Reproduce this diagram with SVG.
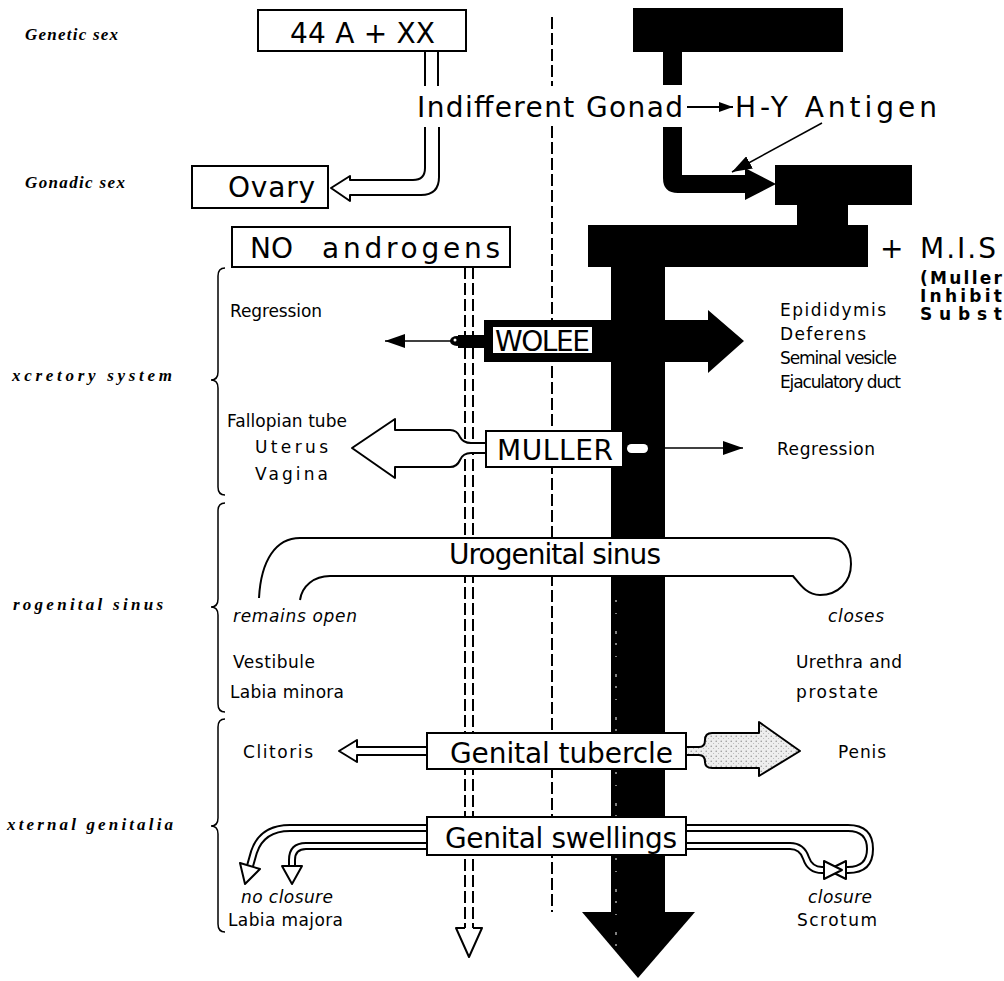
<svg xmlns="http://www.w3.org/2000/svg" width="1004" height="981" viewBox="0 0 1004 981">
<defs>
<style>
.lbl{font-family:"Liberation Serif","DejaVu Serif",serif;font-weight:bold;font-style:italic;font-size:17px}
.big{font-family:"DejaVu Sans",sans-serif;font-size:28px}
.sm{font-family:"DejaVu Sans",sans-serif;font-size:17px}
.bd{font-weight:bold}
.it{font-style:italic}
.box{fill:#fff;stroke:#000;stroke-width:2}
.blk{fill:#000}
.ln{fill:none;stroke:#000;stroke-width:2}
.thin{fill:none;stroke:#000;stroke-width:1.5}
.open{fill:#fff;stroke:#000;stroke-width:2;stroke-linejoin:round}
.dash{fill:none;stroke:#000;stroke-width:2;stroke-dasharray:12 4}
.tubeo{fill:none;stroke:#000;stroke-width:8}
.tubei{fill:none;stroke:#fff;stroke-width:4}
</style>
<pattern id="stip" width="5" height="5" patternUnits="userSpaceOnUse">
<rect width="5" height="5" fill="#eeeeee"/>
<circle cx="1.2" cy="1.2" r="0.7" fill="#888"/>
<circle cx="3.6" cy="3.4" r="0.5" fill="#aaa"/>
</pattern>
<marker id="tri" viewBox="0 0 20 14" refX="20" refY="7" markerWidth="20" markerHeight="14" markerUnits="userSpaceOnUse" orient="auto">
<path d="M0,0 L20,7 L0,14 Z" fill="#000"/>
</marker>
<marker id="tris" viewBox="0 0 14 10" refX="14" refY="5" markerWidth="14" markerHeight="10" markerUnits="userSpaceOnUse" orient="auto">
<path d="M0,0 L14,5 L0,10 Z" fill="#000"/>
</marker>
</defs>
<rect width="1004" height="981" fill="#fff"/>

<g id="connectors">
<!-- central dashed divider -->
<line class="dash" x1="552" y1="17" x2="552" y2="86"/>
<line class="dash" x1="552" y1="126" x2="552" y2="912"/>
<!-- 44A+XX to Indifferent Gonad -->
<line class="ln" x1="425" y1="51" x2="425" y2="86"/>
<line class="ln" x1="438" y1="51" x2="438" y2="86"/>
<!-- Gonad to Ovary -->
<path class="open" d="M425,127 V168 Q425,180 413,180 H350 V176 L331,188 L350,201 V195 H421 Q439,195 439,177 V127"/>
<!-- NO androgens dashed double line -->
<line class="dash" x1="465" y1="267" x2="465" y2="928"/>
<line class="dash" x1="473" y1="267" x2="473" y2="928"/>
<path class="open" d="M465,928 H456 L469,957 L482,928 H473"/>
<!-- male chain -->
<rect class="blk" x="663" y="52" width="19" height="33"/>
<path class="blk" d="M663,127 V178 Q663,193 678,193 H745 V200 L776,184 L745,168 V175 H682 V127 Z"/>
<line class="thin" x1="822" y1="123" x2="732" y2="172" marker-end="url(#tri)"/>
<line class="ln" x1="687" y1="107" x2="733" y2="107" marker-end="url(#tris)"/>
<rect class="blk" x="797" y="204" width="51" height="22"/>
<rect class="blk" x="611" y="266" width="54" height="647"/>
<polygon class="blk" points="582,912 695,912 638,978"/>
<line x1="616" y1="600" x2="616" y2="960" stroke="#fff" stroke-width="1" stroke-dasharray="2 11 1 17 3 9"/>
<!-- Wolff connectors -->
<line class="thin" x1="455" y1="341" x2="385" y2="341" marker-end="url(#tri)"/>
<rect class="blk" x="458" y="335" width="28" height="13"/>
<ellipse class="blk" cx="457" cy="341" rx="7" ry="5"/>
<circle cx="455" cy="340" r="1.5" fill="#fff"/>
<!-- Muller connectors -->
<path class="open" d="M486,443 H471 Q463,443 460,437 Q457,430 450,430 H395 V419 L352,448 L395,478 V467 H450 Q457,467 460,460 Q463,453 471,453 H486"/>
<rect x="627" y="444" width="21" height="9" rx="4.5" fill="#fff"/>
<line class="thin" x1="665" y1="448" x2="743" y2="448" marker-end="url(#tri)"/>
<!-- Genital tubercle arrows -->
<path class="open" d="M427,747 H357 V740 L339,751 L357,762 V755 H427"/>
<path d="M686,747 H699 Q705,747 705,740 Q705,733 712,733 H759 V722 L800,751 L759,776 V768 H712 Q705,768 705,762 Q705,755 699,755 H686" fill="url(#stip)" stroke="#000" stroke-width="2" stroke-linejoin="round"/>
<!-- Genital swellings tubes -->
<path class="tubeo" d="M430,828 H290 Q262,828 254,852 L250,866"/>
<path class="tubei" d="M430,828 H290 Q262,828 254,852 L250,866"/>
<polygon class="open" points="240,863 260,869 245,884"/>
<path class="tubeo" d="M430,846 H306 Q292,846 292,860 V866"/>
<path class="tubei" d="M430,846 H306 Q292,846 292,860 V866"/>
<polygon class="open" points="282,866 302,866 292,884"/>
<path class="tubeo" d="M683,828 H848 Q870,828 870,849 Q870,870 848,870 H846"/>
<path class="tubei" d="M683,828 H848 Q870,828 870,849 Q870,870 848,870 H846"/>
<path class="tubeo" d="M683,846 H790 Q802,846 806,858 Q810,870 822,870 H824"/>
<path class="tubei" d="M683,846 H790 Q802,846 806,858 Q810,870 822,870 H824"/>
<polygon class="open" points="846,861 846,879 828,870"/>
<polygon class="open" points="824,861 824,879 842,870"/>
</g>

<g id="side-labels">
<text class="lbl" x="25" y="40" textLength="93" lengthAdjust="spacing">Genetic sex</text>
<text class="lbl" x="25" y="188" textLength="100" lengthAdjust="spacing">Gonadic sex</text>
<text class="lbl" x="12" y="381" textLength="160" lengthAdjust="spacing">xcretory system</text>
<text class="lbl" x="13" y="610" textLength="150" lengthAdjust="spacing">rogenital sinus</text>
<text class="lbl" x="7" y="830" textLength="166" lengthAdjust="spacing">xternal genitalia</text>
<path class="thin" d="M225,268 Q218,268 218,276 V372 Q218,380 211,380 Q218,380 218,388 V487 Q218,495 225,495"/>
<path class="thin" d="M225,503 Q218,503 218,511 V599 Q218,607 211,607 Q218,607 218,615 V704 Q218,712 225,712"/>
<path class="thin" d="M225,719 Q218,719 218,727 V818 Q218,826 211,826 Q218,826 218,834 V924 Q218,932 225,932"/>
</g>

<g id="node-genotype">
<rect class="box" x="258" y="10" width="208" height="41"/>
<text class="big" x="290" y="43" font-size="30" textLength="145" lengthAdjust="spacing">44 A + XX</text>
</g>

<g id="node-male-genotype">
<rect class="blk" x="633" y="8" width="210" height="44"/>
</g>

<g id="node-indifferent-gonad">
<text class="big" x="417" y="117" font-size="30" textLength="266" lengthAdjust="spacing">Indifferent Gonad</text>
</g>

<g id="node-hy-antigen">
<text class="big" x="735" y="117" font-size="30" textLength="202" lengthAdjust="spacing">H-Y Antigen</text>
</g>

<g id="node-ovary">
<rect class="box" x="192" y="166" width="136" height="42"/>
<text class="big" x="228" y="197" font-size="29" textLength="87" lengthAdjust="spacing">Ovary</text>
</g>

<g id="node-testis">
<rect class="blk" x="775" y="165" width="137" height="40"/>
</g>

<g id="node-no-androgens">
<rect class="box" x="232" y="227" width="278" height="40"/>
<text class="big" x="250" y="258" font-size="32" textLength="43" lengthAdjust="spacing">NO</text>
<text class="big" x="322" y="258" font-size="32" textLength="178" lengthAdjust="spacing">androgens</text>
</g>

<g id="node-androgens">
<rect class="blk" x="588" y="225" width="280" height="42"/>
</g>

<g id="node-mis">
<text class="big" x="880" y="258" font-size="30">+</text>
<text class="big" x="920" y="258" font-size="30" textLength="76" lengthAdjust="spacing">M.I.S</text>
<text class="sm bd" x="920" y="284" font-size="17" textLength="82" lengthAdjust="spacing">(Muller</text>
<text class="sm bd" x="920" y="302" font-size="17" textLength="82" lengthAdjust="spacing">Inhibit</text>
<text class="sm bd" x="920" y="320" font-size="17" textLength="82" lengthAdjust="spacing">Subst</text>
</g>

<g id="node-wolff">
<path class="blk" d="M484,320 H708 V310 L744,341 L708,373 V362 H484 Z"/>
<rect x="493" y="327" width="99" height="26" fill="#fff"/>
<text class="big" x="495" y="351" font-size="27" textLength="95" lengthAdjust="spacing">WOLEE</text>
</g>

<g id="node-muller">
<rect class="box" x="486" y="431" width="137" height="36"/>
<text class="big" x="497" y="460" textLength="116" lengthAdjust="spacing">MULLER</text>
</g>

<g id="node-wolff-outcomes">
<text class="sm" x="230" y="317" textLength="92" lengthAdjust="spacing">Regression</text>
<text class="sm" x="780" y="316" textLength="106" lengthAdjust="spacing">Epididymis</text>
<text class="sm" x="780" y="340" textLength="86" lengthAdjust="spacing">Deferens</text>
<text class="sm" x="780" y="364" textLength="117" lengthAdjust="spacing">Seminal vesicle</text>
<text class="sm" x="780" y="388" textLength="121" lengthAdjust="spacing">Ejaculatory duct</text>
</g>

<g id="node-muller-outcomes">
<text class="sm" x="227" y="427" textLength="120" lengthAdjust="spacing">Fallopian tube</text>
<text class="sm" x="255" y="453" textLength="73" lengthAdjust="spacing">Uterus</text>
<text class="sm" x="255" y="480" textLength="73" lengthAdjust="spacing">Vagina</text>
<text class="sm" x="777" y="455" textLength="98" lengthAdjust="spacing">Regression</text>
</g>

<g id="node-urogenital-sinus">
<path class="box" d="M259,598 C261,560 276,538 300,538 H829 C843,538 851,549 851,564 C851,582 838,595 820,595 C806,595 799,583 793,576 H330 C314,576 302,586 300,600"/>
<text class="big" x="449" y="564" font-size="27" textLength="212" lengthAdjust="spacing">Urogenital sinus</text>
<text class="sm it" x="233" y="622" textLength="124" lengthAdjust="spacing">remains open</text>
<text class="sm it" x="828" y="622" textLength="56" lengthAdjust="spacing">closes</text>
<text class="sm" x="233" y="668" textLength="82" lengthAdjust="spacing">Vestibule</text>
<text class="sm" x="230" y="698" textLength="114" lengthAdjust="spacing">Labia minora</text>
<text class="sm" x="796" y="668" textLength="106" lengthAdjust="spacing">Urethra and</text>
<text class="sm" x="796" y="698" textLength="82" lengthAdjust="spacing">prostate</text>
</g>

<g id="node-genital-tubercle">
<rect class="box" x="427" y="733" width="259" height="36"/>
<text class="big" x="450" y="763" textLength="223" lengthAdjust="spacing">Genital tubercle</text>
<text class="sm" x="243" y="758" textLength="70" lengthAdjust="spacing">Clitoris</text>
<text class="sm" x="838" y="758" textLength="48" lengthAdjust="spacing">Penis</text>
</g>

<g id="node-genital-swellings">
<rect class="box" x="427" y="817" width="259" height="38"/>
<text class="big" x="445" y="848" textLength="232" lengthAdjust="spacing">Genital swellings</text>
<text class="sm it" x="241" y="903" textLength="92" lengthAdjust="spacing">no closure</text>
<text class="sm" x="228" y="926" textLength="115" lengthAdjust="spacing">Labia majora</text>
<text class="sm it" x="808" y="903" textLength="64" lengthAdjust="spacing">closure</text>
<text class="sm" x="797" y="926" textLength="80" lengthAdjust="spacing">Scrotum</text>
</g>
</svg>
